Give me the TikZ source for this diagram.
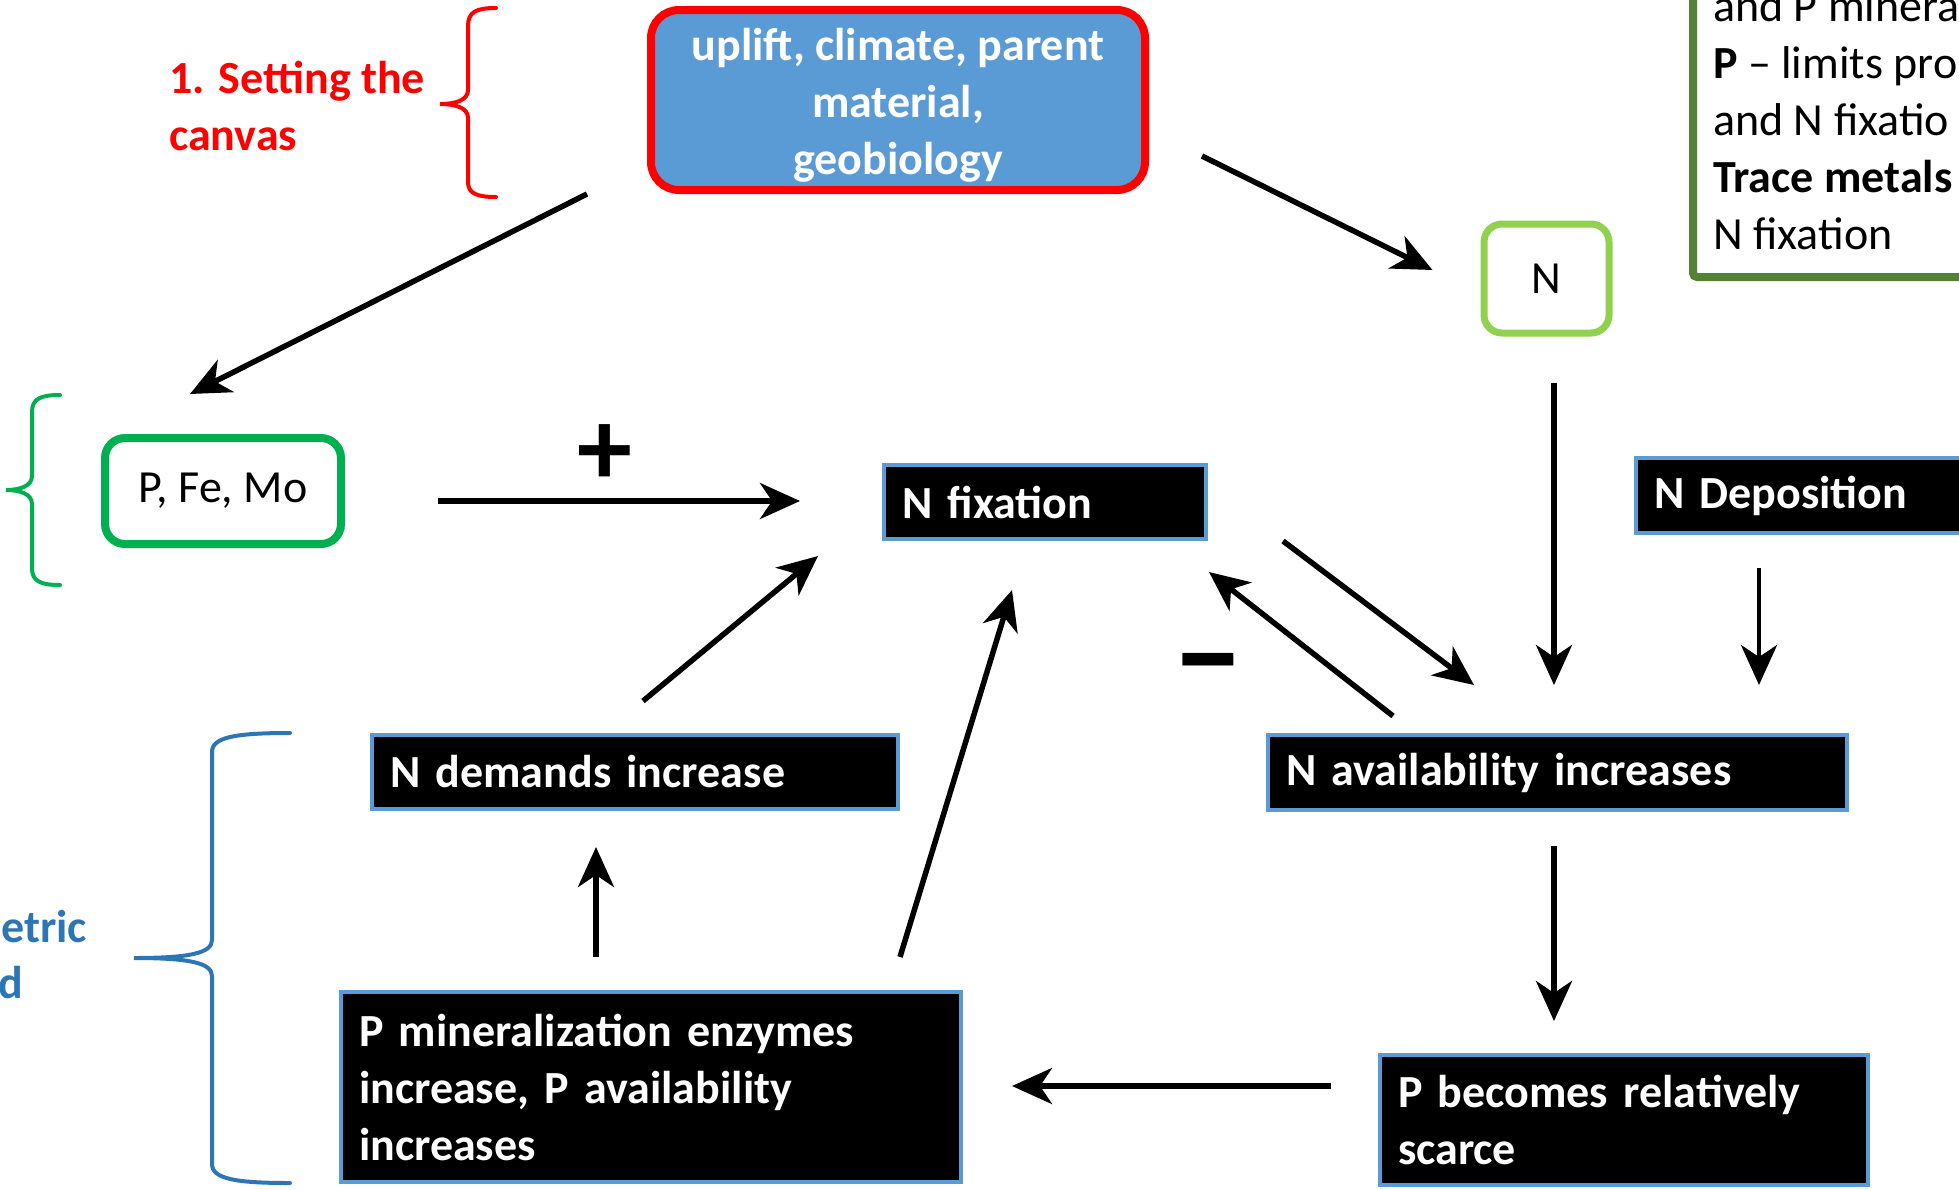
\documentclass[tikz,border=0pt]{standalone}
\usepackage{fontspec}
\setmainfont{Carlito}
\usetikzlibrary{arrows.meta,calc}
\definecolor{boxblue}{HTML}{5B9BD5}
\definecolor{bracered}{HTML}{FF0000}
\definecolor{gborder}{HTML}{00B050}
\definecolor{lgreen}{HTML}{92D050}
\definecolor{dgreen}{HTML}{548235}
\definecolor{dblue}{HTML}{2E75B6}
\begin{document}
\begin{tikzpicture}[x=1pt,y=-1pt,
  txt/.style={font=\fontsize{46}{57}\selectfont, inner sep=0pt},
  blk/.style={draw=boxblue, line width=4pt, fill=black, text=white, font=\fontsize{46}{57}\selectfont\bfseries, align=left, inner xsep=18pt, inner ysep=0pt},
  arr/.style={line width=5.5pt, -{Stealth[length=40pt,width=36pt,inset=12pt]}},
  bracepath/.style={line width=4pt, line cap=round},
]
\useasboundingbox (0,0) rectangle (1959,1189);
\clip (0,0) rectangle (1959,1189);

% top box
\node[draw=bracered, line width=8pt, fill=boxblue, rounded corners=28pt, minimum width=494pt, minimum height=180pt, text=white, font=\fontsize{46}{57}\selectfont\bfseries, align=center, inner sep=0pt] (top) at (898,100) {\rule{0pt}{42pt}uplift, climate, parent\\material,\\geobiology};

% red label and brace
\node[txt, text=bracered, font=\fontsize{46}{57}\selectfont\bfseries, align=left, anchor=west] (lab1) at (169,106) {1. Setting the\\canvas};
\draw[bracepath, draw=bracered] (496,8) .. controls (476,8) and (468,12) .. (468,26) -- (468,90) .. controls (468,100) and (456,104) .. (440,104) .. controls (456,104) and (468,108) .. (468,118) -- (468,182) .. controls (468,193) and (476,197) .. (496,197);

% top right box (cut off)
\draw[line width=8pt, draw=dgreen, rounded corners=4pt] (1693,-30) -- (1693,277) -- (2000,277);
\node[txt, anchor=base west] (tr1) at (1713,21) {and P minera};
\node[txt, anchor=base west] (tr2) at (1713,78) {\textbf{P} -- limits pro};
\node[txt, anchor=base west] (tr3) at (1713,135) {and N fixatio};
\node[txt, anchor=base west] (tr4) at (1713,192) {\textbf{Trace metals}};
\node[txt, anchor=base west] (tr5) at (1713,249) {N fixation};

% N box
\node[draw=lgreen, line width=7pt, rounded corners=18pt, minimum width=125pt, minimum height=109pt, txt] (nbox) at (1546.5,278.5) {N};

% green brace and P Fe Mo
\draw[bracepath, draw=gborder] (60,395) .. controls (40,395) and (32,399) .. (32,412) -- (32,476) .. controls (32,486) and (20,490) .. (6,490) .. controls (20,490) and (32,494) .. (32,504) -- (32,568) .. controls (32,581) and (40,585) .. (60,585);
\node[draw=gborder, line width=8pt, rounded corners=20pt, minimum width=236pt, minimum height=106pt, txt] (pfm) at (223,491) {P, Fe, Mo};

% black boxes
\node[blk, text width=286pt, minimum height=74pt] (nfix) at (1045,502) {N fixation};
\node[blk, text width=291pt, minimum height=75pt] (ndep) at (1799.5,495.5) {N Deposition};
\node[blk, text width=490pt, minimum height=74pt] (ndem) at (635,772) {N demands increase};
\node[blk, text width=543pt, minimum height=75pt] (navail) at (1557.5,772.5) {N availability increases};
\node[blk, text width=584pt, minimum height=190pt] (pmin) at (651,1087) {P mineralization enzymes\\increase, P availability\\increases};
\node[blk, text width=452pt, minimum height=130pt] (pbec) at (1624,1120) {P becomes relatively\\scarce};

% blue brace and label
\draw[bracepath, draw=dblue] (290,733) .. controls (236,733) and (212,737) .. (212,752) -- (212,940) .. controls (212,953) and (190,958) .. (134,958) .. controls (190,958) and (212,963) .. (212,976) -- (212,1164) .. controls (212,1179) and (236,1183) .. (290,1183);
\node[txt, text=dblue, font=\fontsize{46}{57}\selectfont\bfseries, anchor=base west] (lab3a) at (1,942) {etric};
\node[txt, text=dblue, font=\fontsize{46}{57}\selectfont\bfseries, anchor=base west] (lab3b) at (-2,998) {d};

% signs
\node[font=\fontsize{110}{110}\selectfont\bfseries, inner sep=0pt] (plus) at (605,455) {+};
\node[font=\fontsize{144}{144}\selectfont\bfseries, inner sep=0pt] (minus) at (1208,677) {--};

% arrows
\draw[arr] ($(top.south west)+(-60,0)$) -- ($(pfm.north)+(-33,-40)$);
\draw[arr] ($(top.south east)+(53,-38)$) -- ($(nbox.west)+(-48,-8.5)$);
\draw[arr] ($(nbox.south)+(7.5,46)$) -- ($(navail.north)+(-3.5,-48)$);
\draw[arr, line width=4.5pt] ($(ndep.south west)+(125,33)$) -- ($(navail.north east)+(-90,-48)$);
\draw[arr] ($(nfix.south east)+(75,0)$) -- ($(navail.north)+(-83.5,-48)$);
\draw[arr] ($(navail.north west)+(127,-17)$) -- ($(nfix.south east)+(1,31)$);
\draw[arr] ($(ndem.north)+(8,-32)$) -- ($(nfix.south west)+(-64,15)$);
\draw[arr] ($(pmin.north east)+(-63,-33)$) -- ($(nfix.south)+(-33,49)$);
\draw[arr] ($(pmin.north)+(-55,-33)$) -- ($(ndem.south)+(-39,36)$);
\draw[arr] ($(navail.south)+(-3.5,34)$) -- ($(pbec.north)+(-70,-32)$);
\draw[arr] ($(pbec.west)+(-47,-34)$) -- ($(pmin.east)+(49,-1)$);
\draw[arr] ($(pfm.east)+(93,10)$) -- ($(nfix.west)+(-82,-1)$);
\end{tikzpicture}
\end{document}
